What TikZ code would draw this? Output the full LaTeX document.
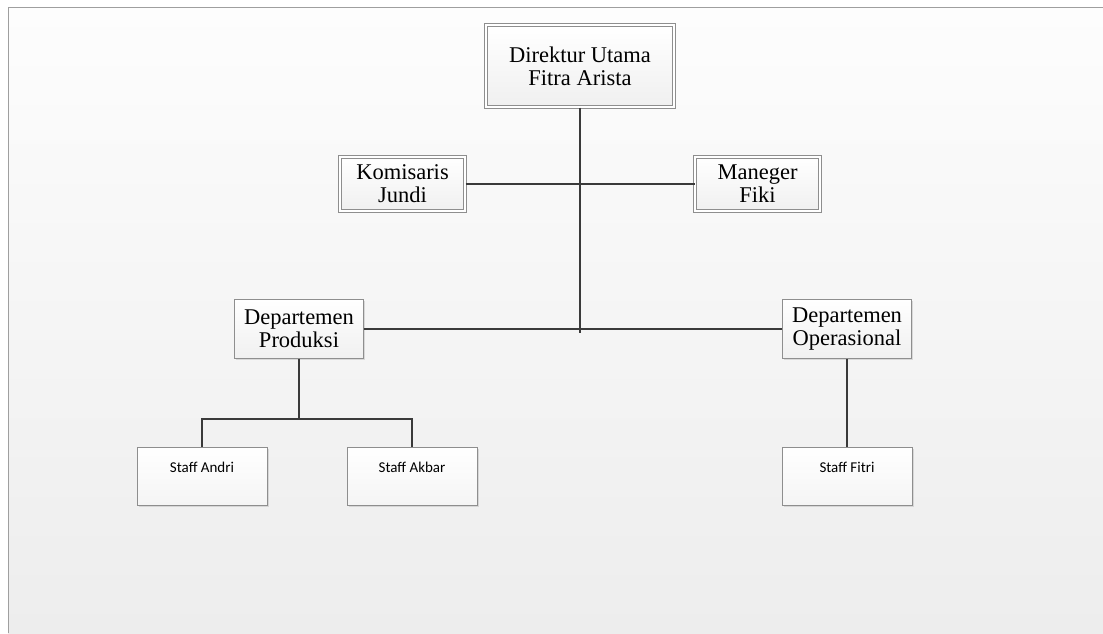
\documentclass[tikz,border=0pt]{standalone}
\usepackage{fontspec}
\setmainfont{Liberation Serif}
\newfontfamily\stafffont{Carlito}
\usetikzlibrary{shapes, arrows, shadows}
\definecolor{bgtop}{HTML}{FDFDFD}
\definecolor{bgbottom}{HTML}{EDEDED}
\definecolor{boxline}{HTML}{8E8E8E}
\definecolor{connect}{HTML}{3A3A3A}
\tikzstyle{base} = [rectangle, draw=boxline, line width=0.8pt, top color=white, bottom color=gray!12, drop shadow={shadow xshift=1.5pt, shadow yshift=-1.5pt, fill=gray!45, opacity=0.6}]
\tikzstyle{doublebox} = [base, line width=1pt, double=white, double distance=2pt, align=center, inner sep=0pt, font=\fontsize{22.5}{23}\selectfont]
\tikzstyle{dept} = [base, align=center, inner sep=0pt, minimum width=129pt, minimum height=59pt, font=\fontsize{22.5}{23}\selectfont]
\tikzstyle{staff} = [base, bottom color=gray!8, inner sep=0pt, minimum width=130pt, text height=25pt, text depth=33pt, font=\stafffont\fontsize{15}{18}\selectfont]
\tikzstyle{line} = [draw=connect, line width=2pt]

\begin{document}
\begin{tikzpicture}[x=1pt, y=-1pt, node distance=118pt]
    \useasboundingbox (0,0) rectangle (1103,633);
    \shade [top color=bgtop, bottom color=bgbottom] (8,7) rectangle (1103,633);
    \draw [gray!75, line width=1pt] (8,633) -- (8,7) -- (1103,7);

    \node [doublebox, minimum width=188pt, minimum height=82pt] (dir) at (580,66) {Direktur Utama\\Fitra Arista};
    \node [doublebox, minimum width=125pt, minimum height=54pt, below of=dir, xshift=-177.5pt] (kom) {Komisaris\\Jundi};
    \node [doublebox, minimum width=125pt, minimum height=54pt, below of=dir, xshift=177.5pt] (man) {Maneger\\Fiki};
    \node [dept, below of=dir, node distance=263pt, xshift=-281pt] (prod) {Departemen\\Produksi};
    \node [dept, below of=dir, node distance=263pt, xshift=267pt] (ops) {Departemen\\Operasional};
    \node [staff, below of=prod, node distance=147pt, xshift=-97pt] (andri) {Staff Andri};
    \node [staff, below of=prod, node distance=147pt, xshift=113pt] (akbar) {Staff Akbar};
    \node [staff, below of=ops, node distance=147pt] (fitri) {Staff Fitri};

    \coordinate (hub) at (580,333);
    \coordinate (split) at (299,419);

    \path [line] (dir) -- (hub);
    \path [line] (kom) -- (man);
    \path [line] (prod) -- (ops);
    \path [line] (prod) -- (split);
    \path [line] (split) -| (andri);
    \path [line] (split) -| (akbar);
    \path [line] (ops) -- (fitri);

\end{tikzpicture}
\end{document}
